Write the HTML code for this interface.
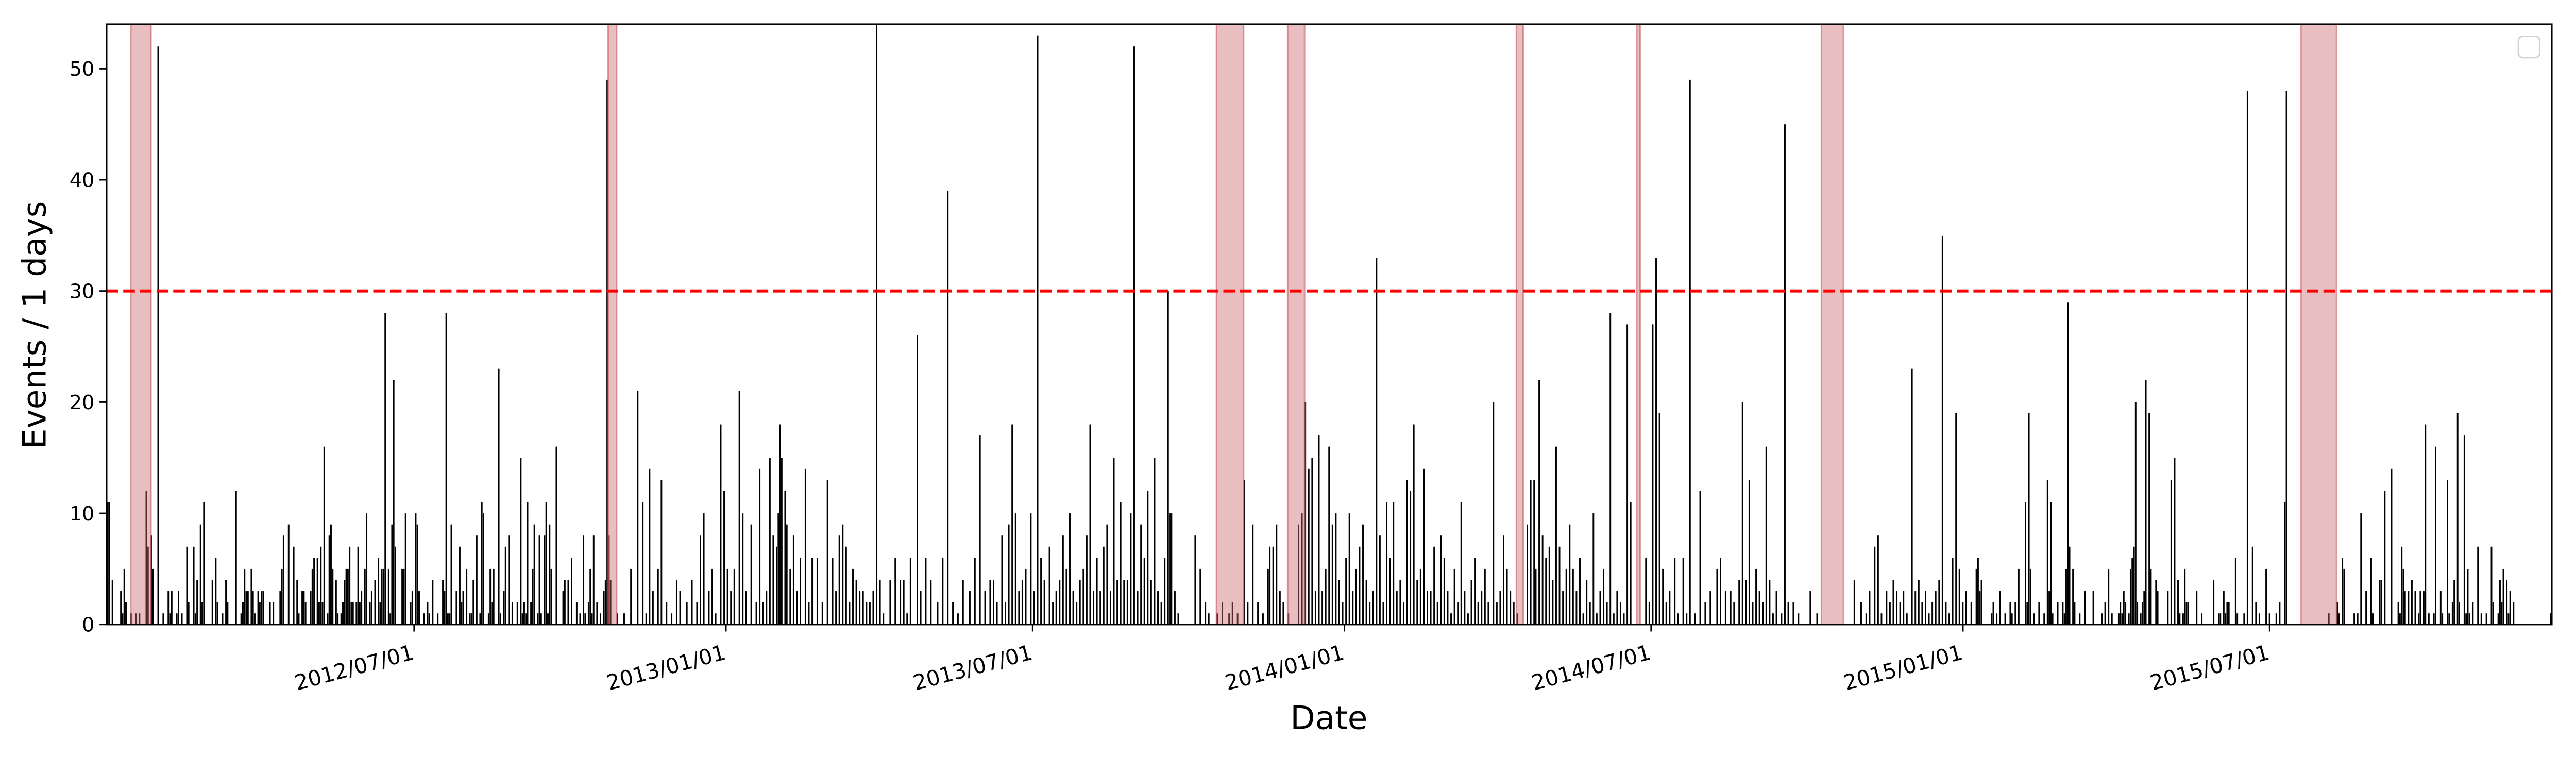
<!DOCTYPE html>
<html><head><meta charset="utf-8"><style>
html,body{margin:0;padding:0;background:#fff;overflow:hidden;}
svg{display:block;font-family:"DejaVu Sans","Liberation Sans",sans-serif;width:100vw;height:29.4118vw;}
</style></head><body>
<svg id="chart" viewBox="0 0 5100 1500" preserveAspectRatio="none" xmlns="http://www.w3.org/2000/svg">
<rect x="0" y="0" width="5100" height="1500" fill="#fff"/>
<g id="bars"></g>
<g id="shades"></g>
<line id="thresh" stroke="#ff0000" stroke-width="6" stroke-dasharray="23,10"/>
<g id="yticks"></g>
<g id="xticks"></g>
<rect x="211" y="48" width="4841" height="1188" fill="none" stroke="#000" stroke-width="3.3"/>
<rect x="4986" y="72" width="42" height="42" rx="8" fill="#fff" stroke="#d0d0d0" stroke-width="3"/>
<text x="73" y="643" font-size="64" text-anchor="middle" dominant-baseline="middle" transform="rotate(-90,73,643)">Events / 1 days</text>
<text x="2631" y="1443" font-size="64" text-anchor="middle">Date</text>
</svg>
<script>
const days = [0,1,3,8,9,10,11,14,17,19,23,24,26,27,30,33,36,37,38,41,42,44,47,48,51,52,53,55,56,57,62,64,65,68,70,71,76,79,80,81,82,83,85,86,87,89,90,91,92,96,98,102,103,104,107,110,112,113,115,116,117,120,121,122,124,125,126,127,128,130,131,132,133,135,136,138,139,140,141,142,143,144,145,147,148,149,150,152,153,155,156,158,160,161,162,163,164,166,167,168,169,170,174,175,176,179,180,182,183,184,187,189,190,192,195,198,199,200,201,202,203,206,208,209,210,212,214,215,216,218,220,221,222,225,226,227,228,231,232,234,235,237,239,242,244,245,246,247,248,250,251,252,254,255,256,258,259,260,261,262,265,269,270,272,274,277,279,281,282,284,285,286,287,289,291,293,294,
295,296,297,301,305,309,313,316,318,320,322,325,327,330,333,336,338,342,345,348,350,352,355,357,359,362,364,366,368,370,373,375,377,380,383,385,387,389,391,393,395,396,397,398,400,401,403,405,407,409,412,414,416,419,422,425,428,430,432,434,436,438,440,442,444,446,448,450,452,454,456,458,
462,465,468,470,472,474,478,480,483,486,490,493,496,499,502,505,509,512,515,518,521,523,525,528,530,532,534,536,538,540,542,545,547,549,551,553,556,558,560,562,564,566,568,570,572,574,576,578,580,582,584,586,588,590,592,594,596,598,600,602,604,606,608,610,612,614,616,618,620,622,624,626,627,628,630,632,
642,645,648,650,655,658,662,664,667,671,673,676,679,682,685,686,688,690,692,694,697,703,705,707,709,711,713,715,717,719,721,723,725,727,729,731,733,735,737,739,741,743,745,747,749,751,753,755,757,759,
761,763,765,767,769,771,773,775,777,779,781,783,785,787,789,791,793,795,797,799,801,803,805,807,809,811,813,815,818,820,822,824,826,828,830,832,838,840,842,843,845,847,849,851,853,855,857,859,861,863,865,867,869,871,873,875,877,879,881,883,885,887,889,891,893,895,897,899,
908,910,912,914,916,918,920,922,925,927,930,932,934,937,940,943,946,950,952,955,958,960,963,965,967,969,971,973,975,977,979,981,983,985,988,990,992,995,998,1005,1009,
1031,1035,1038,1040,1043,1045,1047,1050,1052,1054,1056,1058,1060,1062,1065,1067,1069,1071,1073,1075,1077,1079,1081,1083,1085,1087,1089,1091,1093,1095,1097,1100,1103,1104,1105,1106,1112,1113,1115,1117,1120,1123,1124,1126,1128,1132,1133,1134,1135,1137,1140,1143,1145,1146,1147,1148,1151,1154,1155,1156,1157,1158,1160,1161,1164,1167,1172,1177,1179,1181,1183,1187,1188,1189,1190,1191,1193,1194,1195,1196,1197,1198,1200,1201,1202,1203,1205,1206,1209,1210,1216,1218,1220,1222,1223,1225,1226,1227,1228,1233,1236,1243,1246,1247,1249,1250,1251,1252,1256,1257,1261,1263,1266,1268,1270,1274,1276,1280,1282,1285,1286,1311,1316,1317,1319,1320,1326,1328,1330,1333,1336,1337,1341,1342,1344,1348,1352,1353,1354,1355,1356,1358,1360,1362,1364,1365,1367,1368,1370,1373,1374,1377,1378,1381,1382,1384,1385,1387,1388,1391,1392,1393,1394,1396,1399,1401,1404,1407,1408,1411,1412,1413,1414,1416,1417,1418,1420,1442];
const counts = [11,11,4,3,1,5,2,1,1,1,12,7,8,5,52,1,3,1,3,1,3,1,7,2,7,1,4,9,2,11,4,6,2,1,4,2,12,1,2,5,3,3,5,3,1,3,2,3,3,2,2,3,5,8,9,7,4,1,3,3,2,3,5,6,6,2,7,2,16,1,8,9,5,4,1,1,2,4,5,5,7,2,2,2,7,2,3,5,10,2,3,4,6,2,5,5,28,5,1,9,22,7,5,5,10,2,3,10,9,3,1,2,1,4,1,4,3,28,1,1,9,3,7,2,3,5,1,1,4,8,1,11,10,1,5,2,5,23,1,3,7,8,2,2,15,1,2,1,11,2,5,9,1,8,1,8,11,1,9,5,16,3,4,4,6,2,1,8,1,2,5,1,8,2,1,3,4,
49,8,4,1,1,5,21,11,1,14,3,5,13,2,1,4,3,2,4,2,8,10,3,5,1,18,12,5,3,5,21,10,3,9,2,14,2,3,15,8,7,10,18,15,12,9,5,8,3,6,14,2,6,6,2,13,6,3,8,9,7,2,5,4,3,3,2,2,3,54,4,1,
4,6,4,4,1,6,26,3,6,4,2,6,39,2,1,4,3,6,17,3,4,4,2,8,2,9,18,10,3,4,5,10,3,53,6,4,7,2,3,4,8,5,10,3,2,4,5,8,18,3,6,3,7,9,3,15,4,11,4,4,10,52,3,9,6,12,4,15,3,2,6,30,10,10,3,1,
8,5,2,1,1,2,1,2,1,13,2,9,2,1,5,7,7,9,3,2,1,9,10,20,14,15,3,17,3,5,16,9,10,4,2,6,10,3,5,7,9,4,2,3,33,8,2,11,6,11,
3,4,2,13,12,18,4,5,14,3,3,7,2,8,6,3,1,5,2,11,3,1,4,6,2,3,5,2,20,2,3,8,5,3,2,1,9,13,13,5,22,8,6,7,4,16,7,3,5,9,5,3,6,1,4,2,10,1,3,5,2,28,1,3,2,1,27,11,
6,2,27,33,19,5,2,3,6,1,6,1,49,1,12,2,3,5,6,3,3,2,4,20,4,13,2,5,3,2,16,4,1,3,1,45,2,2,1,3,1,
4,2,1,3,7,8,1,3,2,4,3,2,3,1,23,3,4,2,3,1,2,3,4,35,2,1,6,19,5,2,3,2,5,6,3,4,1,2,1,3,1,2,1,2,5,11,2,19,5,1,2,1,13,3,11,1,2,2,1,5,29,7,5,2,1,3,3,1,2,5,1,1,2,1,3,2,1,5,6,7,20,2,1,2,3,22,19,5,4,3,3,13,15,4,1,1,5,2,2,3,1,4,1,1,3,1,2,2,6,1,1,48,7,2,1,5,1,1,2,11,48,1,2,1,6,5,1,1,10,3,6,1,4,4,12,14,2,1,7,5,3,3,4,3,1,3,3,18,1,1,16,3,1,13,1,2,4,19,2,17,1,5,1,2,7,1,1,7,2,1,4,2,5,4,1,3,2,1,2,1];
const shadeStart = [14.3, 296, 655, 697, 832, 903, 1012, 1295];
const shadeEnd = [26.2, 301, 671, 707, 836, 905, 1025, 1316];
const threshold = 30;
const yTicks = [0,10,20,30,40,50];
const xTickDays = [181.5,365.5,546.5,730.5,911.5,1095.5,1276.5];
const xTickLabels = ["2012/07/01","2013/01/01","2013/07/01","2014/01/01","2014/07/01","2015/01/01","2015/07/01"];

const NS = "http://www.w3.org/2000/svg";
const X0 = 211, X1 = 5052, Y0 = 1236, Ytop = 48;
const dMin = 0, dMax = 1443, vMax = 54;
function xs(d){ return X0 + (d - dMin) / (dMax - dMin) * (X1 - X0); }
function ys(v){ return Y0 - v / vMax * (Y0 - Ytop); }
function mk(tag, attrs){ const e = document.createElementNS(NS, tag); for (const k in attrs) e.setAttribute(k, attrs[k]); return e; }

const bars = document.getElementById('bars');
for (let i = 0; i < days.length; i++) {
  const r = mk('rect', {x: xs(days[i]), y: ys(counts[i]), width: 3, height: Y0 - ys(counts[i]), fill: '#000'});
  
  
  bars.appendChild(r);
}
const shades = document.getElementById('shades');
for (let i = 0; i < shadeStart.length; i++) {
  const r = mk('rect', {x: xs(shadeStart[i]), y: Ytop, width: xs(shadeEnd[i]) - xs(shadeStart[i]), height: Y0 - Ytop, fill: 'rgba(200,100,105,0.42)', stroke: 'rgba(200,90,95,0.6)', 'stroke-width': 3});
  
  
  shades.appendChild(r);
}
const th = document.getElementById('thresh');
th.setAttribute('x1', X0); th.setAttribute('x2', X1);
th.setAttribute('y1', ys(threshold)); th.setAttribute('y2', ys(threshold));

const yt = document.getElementById('yticks');
yTicks.forEach(v => {
  const l = mk('line', {x1: X0 - 14, x2: X0, y1: ys(v), y2: ys(v), stroke: '#000', 'stroke-width': 3});
  
  
  yt.appendChild(l);
  const t = mk('text', {x: X0 - 24, y: ys(v) + 14, 'font-size': 39, 'text-anchor': 'end'});
  
  
  t.textContent = v;
  yt.appendChild(t);
});
const xt = document.getElementById('xticks');
xTickDays.forEach((d, i) => {
  const x = xs(d);
  const l = mk('line', {x1: x, x2: x, y1: Y0, y2: Y0 + 14, stroke: '#000', 'stroke-width': 3});
  
  
  xt.appendChild(l);
  const t = mk('text', {x: x + 2, y: 1304, 'font-size': 42, 'text-anchor': 'end', transform: 'rotate(-15,' + (x + 2) + ',1304)'});
  
  
  t.textContent = xTickLabels[i];
  xt.appendChild(t);
});
</script>
</body></html>
